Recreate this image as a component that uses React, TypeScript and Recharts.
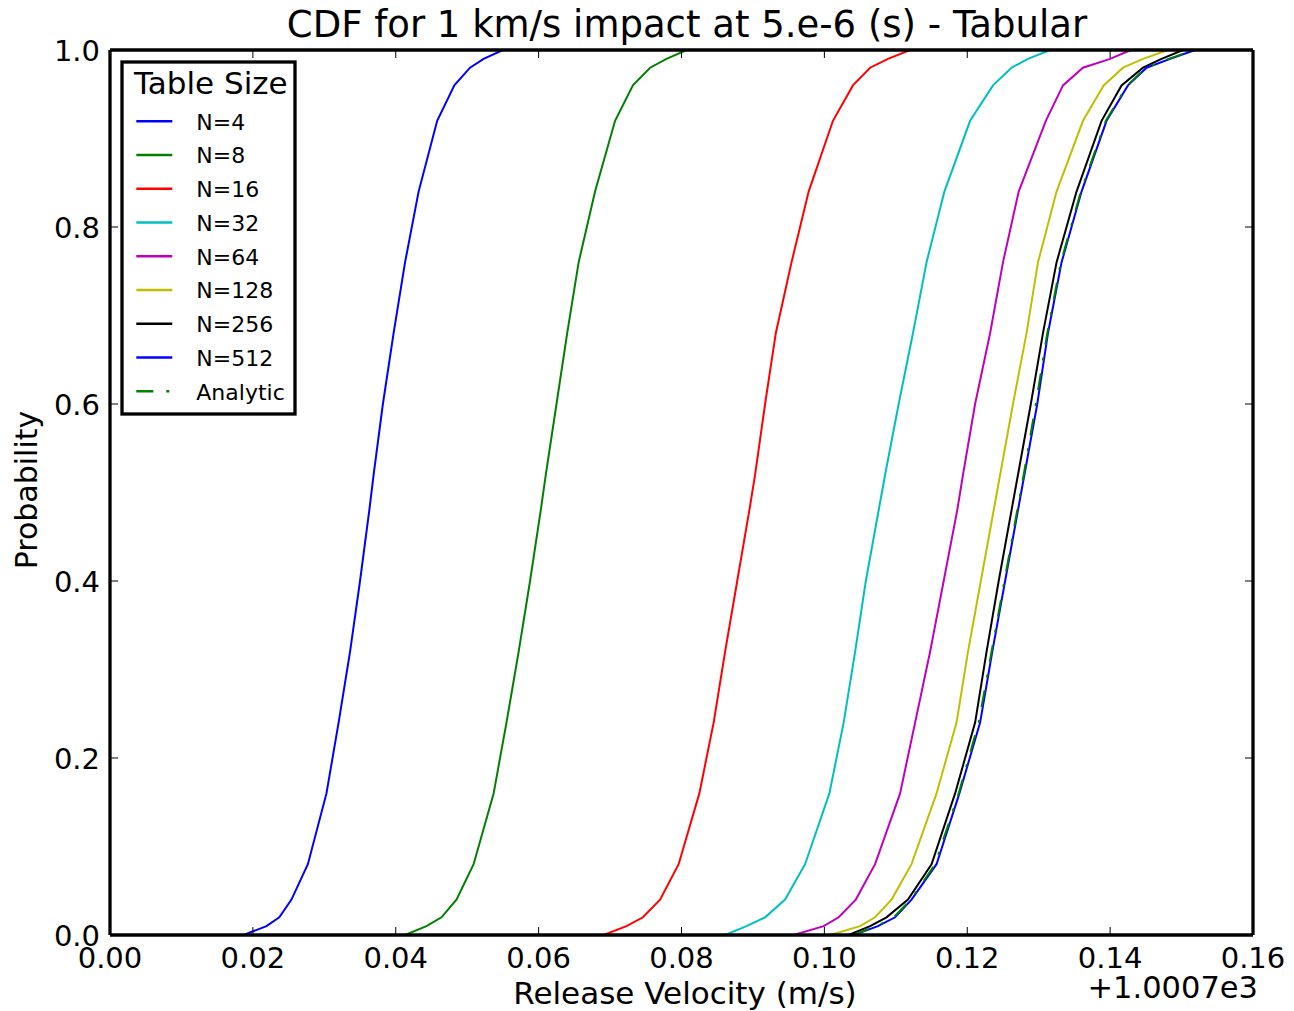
import React from 'react';
import { LineChart, Line, XAxis, YAxis, Legend } from 'recharts';

const FONT = "'DejaVu Sans', 'Bitstream Vera Sans', sans-serif";

// cumulative probability levels at which every CDF curve is sampled
const PROB_LEVELS = [0, 0.01, 0.02, 0.04, 0.08, 0.16, 0.24, 0.32, 0.40, 0.48, 0.52, 0.60, 0.68, 0.76, 0.84, 0.92, 0.96, 0.98, 0.99, 1.0];

// release velocity (offset from 1000.7 m/s) at each probability level
const VEL_N4 = [0.0187, 0.0219, 0.0237, 0.0254, 0.0277, 0.0303, 0.0320, 0.0336, 0.0350, 0.0363, 0.0369, 0.0382, 0.0397, 0.0413, 0.0432, 0.0458, 0.0482, 0.0504, 0.0523, 0.0550];
const VEL_N8 = [0.0413, 0.0443, 0.0464, 0.0485, 0.0509, 0.0537, 0.0555, 0.0572, 0.0588, 0.0603, 0.0610, 0.0625, 0.0640, 0.0656, 0.0679, 0.0707, 0.0732, 0.0756, 0.0779, 0.0807];
const VEL_N16 = [0.0691, 0.0723, 0.0746, 0.0770, 0.0796, 0.0825, 0.0845, 0.0861, 0.0878, 0.0895, 0.0903, 0.0917, 0.0932, 0.0954, 0.0978, 0.1012, 0.1040, 0.1064, 0.1089, 0.1120];
const VEL_N32 = [0.0861, 0.0891, 0.0917, 0.0945, 0.0973, 0.1007, 0.1027, 0.1043, 0.1058, 0.1076, 0.1085, 0.1104, 0.1124, 0.1143, 0.1168, 0.1204, 0.1236, 0.1262, 0.1285, 0.1316];
const VEL_N64 = [0.0957, 0.0999, 0.1020, 0.1044, 0.1071, 0.1106, 0.1127, 0.1148, 0.1167, 0.1186, 0.1194, 0.1211, 0.1232, 0.1250, 0.1272, 0.1310, 0.1334, 0.1362, 0.1400, 0.1429];
const VEL_N128 = [0.1008, 0.1050, 0.1071, 0.1094, 0.1122, 0.1157, 0.1185, 0.1201, 0.1219, 0.1237, 0.1246, 0.1264, 0.1283, 0.1299, 0.1325, 0.1362, 0.1391, 0.1418, 0.1446, 0.1481];
const VEL_N256 = [0.1034, 0.1064, 0.1087, 0.1117, 0.1150, 0.1183, 0.1211, 0.1227, 0.1244, 0.1262, 0.1271, 0.1289, 0.1306, 0.1325, 0.1353, 0.1388, 0.1416, 0.1446, 0.1472, 0.1502];
const VEL_N512 = [0.1041, 0.1075, 0.1099, 0.1122, 0.1157, 0.1189, 0.1218, 0.1235, 0.1253, 0.1271, 0.1280, 0.1298, 0.1313, 0.1332, 0.1360, 0.1395, 0.1425, 0.1451, 0.1484, 0.1519];
const VEL_ANALYTIC = [0.1040, 0.1073, 0.1097, 0.1121, 0.1155, 0.1188, 0.1216, 0.1234, 0.1252, 0.1270, 0.1279, 0.1296, 0.1312, 0.1331, 0.1359, 0.1394, 0.1424, 0.1450, 0.1482, 0.1517];

const SERIES_NAMES = ['N=4', 'N=8', 'N=16', 'N=32', 'N=64', 'N=128', 'N=256', 'N=512', 'Analytic'];
const SERIES_VALUES = [VEL_N4, VEL_N8, VEL_N16, VEL_N32, VEL_N64, VEL_N128, VEL_N256, VEL_N512, VEL_ANALYTIC];
const SERIES_COLORS = ['#0000ff', '#008000', '#ff0000', '#00bfbf', '#bf00bf', '#bfbf00', '#000000', '#0000ff', '#008000'];
const SERIES_DASH = [undefined, undefined, undefined, undefined, undefined, undefined, undefined, undefined, '17 13 3 13'];

const X_TICKS = [0, 0.02, 0.04, 0.06, 0.08, 0.10, 0.12, 0.14, 0.16];
const Y_TICKS = [0, 0.2, 0.4, 0.6, 0.8, 1.0];

const TITLE = 'CDF for 1 km/s impact at 5.e-6 (s) - Tabular';
const X_LABEL = 'Release Velocity (m/s)';
const Y_LABEL = 'Probability';
const X_OFFSET_TEXT = '+1.0007e3';
const LEGEND_TITLE = 'Table Size';

const TICK_LEN = 8;
const TICK_FONT = 29;

const toPoints = (xs: number[]) => xs.map((x, i) => ({ x, p: PROB_LEVELS[i] }));

// tick renderers: draw the inward tick mark plus (optionally) the label
const BottomTick = (props: any) => {
  const { x, y, payload } = props;
  const axisY = y - 12;
  return (
    <g>
      <line x1={x} x2={x} y1={axisY} y2={axisY - TICK_LEN} stroke="#000" strokeWidth={1} />
      <text x={x} y={axisY + 33} textAnchor="middle" fontSize={TICK_FONT} fontFamily={FONT} fill="#000">
        {Number(payload.value).toFixed(2)}
      </text>
    </g>
  );
};

const TopTick = (props: any) => {
  const { x, y } = props;
  const axisY = y + 2;
  return <line x1={x} x2={x} y1={axisY} y2={axisY + TICK_LEN} stroke="#000" strokeWidth={1} />;
};

const LeftTick = (props: any) => {
  const { x, y, payload } = props;
  const axisX = x + 10;
  return (
    <g>
      <line x1={axisX} x2={axisX + TICK_LEN} y1={y} y2={y} stroke="#000" strokeWidth={1} />
      <text x={axisX - 10} y={y + 10.5} textAnchor="end" fontSize={TICK_FONT} fontFamily={FONT} fill="#000">
        {Number(payload.value).toFixed(1)}
      </text>
    </g>
  );
};

const RightTick = (props: any) => {
  const { x, y } = props;
  const axisX = x - 2;
  return <line x1={axisX} x2={axisX - TICK_LEN} y1={y} y2={y} stroke="#000" strokeWidth={1} />;
};

function LegendBox() {
  return (
    <svg width={178} height={357} style={{ display: 'block' }}>
      <rect x={2} y={2} width={173} height={352} fill="#fff" stroke="#000" strokeWidth={3.3} />
      <text x={14} y={34} fontSize={31} fontFamily={FONT} fill="#000">{LEGEND_TITLE}</text>
      {SERIES_NAMES.map((name, i) => {
        const cy = 61.3 + 33.75 * i;
        return (
          <g key={name}>
            <line x1={16.3} x2={52.3} y1={cy} y2={cy} stroke={SERIES_COLORS[i]} strokeWidth={2.6}
              strokeDasharray={SERIES_DASH[i]} />
            <text x={76.3} y={cy + 8.2} fontSize={22} fontFamily={FONT} fill="#000">{name}</text>
          </g>
        );
      })}
    </svg>
  );
}

const XLabel = (props: any) => {
  const vb = props.viewBox || { x: 110, y: 935, width: 1143, height: 76 };
  return (
    <text x={vb.x + vb.width / 2 + 3.5} y={1004} textAnchor="middle" fontSize={31} fontFamily={FONT} fill="#000">
      {X_LABEL}
    </text>
  );
};

const YLabel = (props: any) => {
  const vb = props.viewBox || { x: 0, y: 50, width: 110, height: 885 };
  const cx = vb.x + 37;
  const cy = vb.y + vb.height / 2 - 2.5;
  return (
    <text x={cx} y={cy} transform={`rotate(-90, ${cx}, ${cy})`} textAnchor="middle" fontSize={30} fontFamily={FONT} fill="#000">
      {Y_LABEL}
    </text>
  );
};

export default function App() {
  return (
    <div style={{ position: 'absolute', left: 0, top: 0, width: 1294, height: 1011, background: '#fff', fontFamily: FONT }}>
      <div style={{ position: 'absolute', left: 110, top: 6, width: 1154, textAlign: 'center', fontSize: 37, lineHeight: '37px', color: '#000', whiteSpace: 'nowrap', zIndex: 2 }}>
        {TITLE}
      </div>
      <div style={{ position: 'absolute', left: 1000, top: 973, width: 258, textAlign: 'right', fontSize: 30.5, lineHeight: '30px', color: '#000', whiteSpace: 'nowrap', zIndex: 2 }}>
        {X_OFFSET_TEXT}
      </div>
      <LineChart width={1294} height={1011} margin={{ top: 0, right: 0, bottom: 0, left: 0 }}>
        <XAxis
          xAxisId="bottom"
          dataKey="x"
          type="number"
          domain={[0, 0.16]}
          ticks={X_TICKS}
          interval={0}
          allowDataOverflow
          orientation="bottom"
          height={76}
          tick={<BottomTick />}
          tickSize={0}
          tickMargin={12}
          tickLine={false}
          axisLine={{ stroke: '#000', strokeWidth: 3.3 }}
          label={{ content: XLabel }}
        />
        <XAxis
          xAxisId="top"
          dataKey="x"
          type="number"
          domain={[0, 0.16]}
          ticks={X_TICKS}
          interval={0}
          allowDataOverflow
          orientation="top"
          height={50}
          tick={<TopTick />}
          tickSize={0}
          tickMargin={2}
          tickLine={false}
          axisLine={{ stroke: '#000', strokeWidth: 3.3 }}
        />
        <YAxis
          yAxisId="left"
          type="number"
          domain={[0, 1]}
          ticks={Y_TICKS}
          interval={0}
          allowDataOverflow
          orientation="left"
          width={110}
          tick={<LeftTick />}
          tickSize={0}
          tickMargin={10}
          tickLine={false}
          axisLine={{ stroke: '#000', strokeWidth: 3.3 }}
          label={{ content: YLabel }}
        />
        <YAxis
          yAxisId="right"
          type="number"
          domain={[0, 1]}
          ticks={Y_TICKS}
          interval={0}
          allowDataOverflow
          orientation="right"
          width={41}
          tick={<RightTick />}
          tickSize={0}
          tickMargin={2}
          tickLine={false}
          axisLine={{ stroke: '#000', strokeWidth: 3.3 }}
        />
        {SERIES_NAMES.map((name, i) => (
          <Line
            key={name}
            name={name}
            xAxisId="bottom"
            yAxisId="left"
            data={toPoints(SERIES_VALUES[i])}
            dataKey="p"
            type="linear"
            stroke={SERIES_COLORS[i]}
            strokeWidth={2}
            strokeDasharray={SERIES_DASH[i]}
            dot={false}
            activeDot={false}
            isAnimationActive={false}
          />
        ))}
        <Legend
          layout="vertical"
          align="center"
          verticalAlign="middle"
          wrapperStyle={{ left: 120, top: 60, width: 178, height: 357, margin: 0, padding: 0 }}
          content={() => <LegendBox />}
        />
      </LineChart>
    </div>
  );
}
